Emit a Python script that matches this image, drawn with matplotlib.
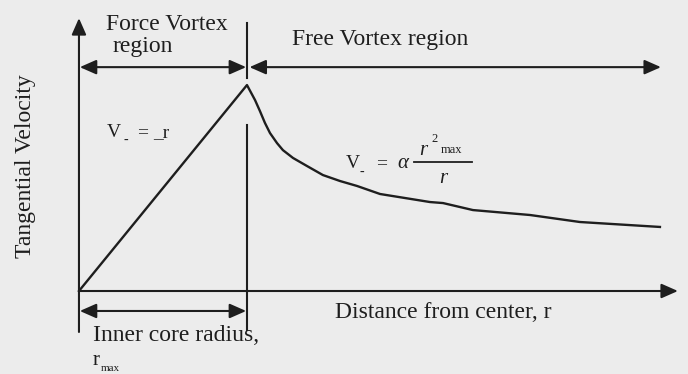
import matplotlib
matplotlib.use("Agg")
import matplotlib.pyplot as plt
from matplotlib.lines import Line2D

# ---- data (r in units of r_max, V in units of V_max) ----
r_values = [0.0, 1.0, 1.048, 1.077, 1.107, 1.137, 1.179, 1.214, 1.274, 1.357,
            1.452, 1.554, 1.655, 1.792, 2.089, 2.167, 2.345, 2.685, 2.982, 3.458]
v_values = [0.0, 1.0, 0.927, 0.874, 0.816, 0.767, 0.718, 0.684, 0.646, 0.607,
            0.563, 0.534, 0.510, 0.471, 0.432, 0.427, 0.393, 0.369, 0.335, 0.311]
r_core = 1.0

title_left = ["Force Vortex", "region"]
title_right = "Free Vortex region"
ylabel = "Tangential Velocity"
xlabel = "Distance from center, r"
core_label = "Inner core radius,"

BG = "#ececec"
INK = "#1e1e1e"
W, H = 688, 374
FONT = "Liberation Serif"

fig = plt.figure(figsize=(W / 100, H / 100), dpi=100, facecolor=BG)
ax = fig.add_axes([0, 0, 1, 1])
ax.set_facecolor(BG)
ax.set_xlim(-0.470, 3.625)
ax.set_ylim(-0.403, 1.413)
ax.axis("off")

# curve
ax.plot(r_values, v_values, color=INK, lw=1.7, solid_joinstyle="round")

def arrow(x0, y0, x1, y1, style):
    ax.annotate("", xy=(x1, y1), xytext=(x0, y0),
                arrowprops=dict(arrowstyle=style + ",head_length=0.5,head_width=0.22",
                                mutation_scale=20, color=INK, lw=1.5,
                                shrinkA=0, shrinkB=0))

# axes
arrow(0, -0.199, 0, 1.325, "-|>")
arrow(0, 0, 3.565, 0, "-|>")
# region arrows
arrow(0.005, 1.087, r_core - 0.005, 1.087, "<|-|>")
arrow(r_core + 0.015, 1.087, 3.464, 1.087, "<|-|>")
# core radius arrow
arrow(0.005, -0.097, r_core - 0.005, -0.097, "<|-|>")
# vertical divider at r_max
ax.plot([r_core, r_core], [1.034, 1.301], color=INK, lw=1.5)
ax.plot([r_core, r_core], [-0.189, 0.806], color=INK, lw=1.5)

def T(px, py, s, size=17, ha="left", va="baseline", **kw):
    fig.text(px / W, 1 - py / H, s, fontsize=size, ha=ha, va=va,
             family=FONT, color=INK, **kw)

T(106, 30, title_left[0])
T(112, 52, title_left[1])
T(292, 45, title_right)
T(26, 166, ylabel, ha="center", va="center", rotation=90)
T(335, 318, xlabel)
T(93, 341, core_label)
T(93, 365, "r", size=15)
T(101, 371, "max", size=8)

# V_ = _r
T(107, 137, "V", size=14)
T(123, 144, "-", size=10)
T(137, 137, "=", size=14)
T(153, 137, "_r", size=14)

# V_ = alpha r^2max / r
T(346, 168, "V", size=14)
T(359, 176, "-", size=10)
T(376, 168, "=", size=14)
T(397, 168, "α", size=15, style="italic")
fig.add_artist(Line2D([414 / W, 472 / W], [1 - 162 / H, 1 - 162 / H],
                      color=INK, lw=1.3, transform=fig.transFigure))
T(419, 155, "r", size=15, style="italic")
T(431, 142, "2", size=9)
T(441, 153, "max", size=9)
T(439, 183, "r", size=15, style="italic")

fig.savefig("out.png", dpi=100, facecolor=BG)
